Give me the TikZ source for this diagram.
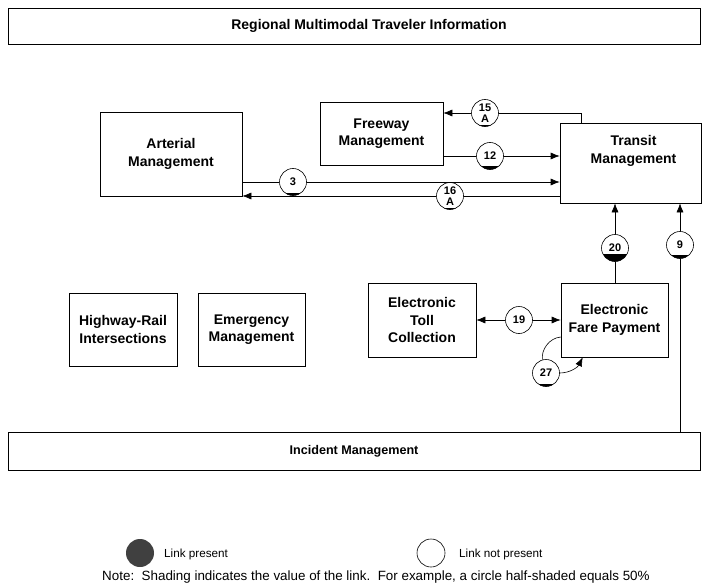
\documentclass[tikz,border=0pt]{standalone}
\usepackage{fontspec}
\setmainfont{Liberation Sans}
\usetikzlibrary{arrows.meta}
\begin{document}
\begin{tikzpicture}[x=1pt,y=-1pt,
 box/.style={draw, line width=0.6pt, font=\fontsize{14}{17.5}\selectfont\bfseries, align=center, inner sep=0pt},
 wide/.style={box, minimum width=692pt},
 lnk/.style={draw, circle, line width=0.6pt, minimum size=27pt, inner sep=0pt, font=\fontsize{11}{10.5}\selectfont\bfseries, align=center, fill=white},
 lshade/.style={path picture={\fill[black] (path picture bounding box.south west) rectangle ([yshift=#1]path picture bounding box.south east);}},
 conn/.style={line width=0.6pt},
 arr/.style={conn, -{Latex[length=9pt,width=7pt]}},
 legtext/.style={anchor=west, font=\fontsize{11.7}{14}\selectfont, inner sep=0pt},
]
\useasboundingbox (0,0) rectangle (702,586);
% boxes
\node[wide, minimum height=36pt, font=\fontsize{14}{16}\selectfont\bfseries] (rmti) at (354,26) {\hspace*{30pt}Regional Multimodal Traveler Information};
\node[box, minimum width=142pt, minimum height=84pt] (art) at (171,154) {Arterial\\Management};
\node[box, minimum width=123pt, minimum height=63pt] (fwy) at (381.5,133.5) {Freeway\\Management};
\node[box, minimum width=141pt, minimum height=80pt] (tr) at (630.5,163) {};
\node[box, draw=none] (trt) at ([xshift=3pt,yshift=12pt]tr.center) {Transit\\Management};
\node[box, minimum width=108pt, minimum height=73pt] (hri) at (123,329.5) {Highway-Rail\\Intersections};
\node[box, minimum width=107pt, minimum height=73pt] (em) at (251.5,329.5) {Emergency\\Management};
\node[box, minimum width=108pt, minimum height=74pt] (etc) at (422,320) {Electronic\\Toll\\Collection};
\node[box, minimum width=107pt, minimum height=74pt] (efp) at (614.5,320) {Electronic\\Fare Payment};
\node[wide, minimum height=38pt, font=\fontsize{12.6}{15}\selectfont\bfseries] (im) at (354,451) {Incident Management};
% link circles
\node[lnk, lshade=1.5pt] (l15) at (485,113) {15\\A};
\node[lnk, lshade=4pt] (l12) at (490,156) {12};
\node[lnk, lshade=3pt] (l3) at (293,182) {3};
\node[lnk, lshade=1.5pt] (l16) at (450,196) {16\\A};
\node[lnk, lshade=8pt] (l20) at (615,248) {20};
\node[lnk, lshade=4pt] (l9) at (680,245) {9};
\node[lnk] (l19) at (519,320) {19};
\node[lnk, lshade=3pt] (l27) at (546,373) {27};
% connectors
\coordinate (c15) at ([xshift=22pt]tr.north west);
\draw[conn] (c15) |- (l15);
\draw[arr] (l15) -- (l15 -| fwy.east);
\draw[conn] (l12 -| fwy.east) -- (l12);
\draw[arr] (l12) -- (l12 -| tr.west);
\draw[conn] (l3 -| art.east) -- (l3);
\draw[arr] (l3) -- (l3 -| tr.west);
\draw[conn] (l16 -| tr.west) -- (l16);
\draw[arr] (l16) -- (l16 -| art.east);
\draw[conn] (l20 |- efp.north) -- (l20);
\draw[arr] (l20) -- (l20 |- tr.south);
\draw[conn] (l9 |- im.north) -- (l9);
\draw[arr] (l9) -- (l9 |- tr.south);
\draw[arr] (l19) -- (l19 -| etc.east);
\draw[arr] (l19) -- (l19 -| efp.west);
\coordinate (c27a) at ([yshift=-17pt]efp.west);
\draw[conn] (c27a) .. controls (549,338) and (541,350) .. (l27.105);
\coordinate (c27b) at ([xshift=22pt]efp.south west);
\draw[arr] (l27.east) .. controls (570,373) and (578,367) .. (c27b);
% legend
\node[circle, fill=black!75, minimum size=28pt, inner sep=0pt] (lp) at (140,553) {};
\node[legtext] (lpt) at (164,554) {Link present};
\node[circle, draw, line width=0.6pt, minimum size=28pt, inner sep=0pt] (lnp) at (431,553) {};
\node[legtext] (lnpt) at (459,554) {Link not present};
\node[legtext, font=\fontsize{13.4}{15}\selectfont] (note) at (102,577) {Note:\ \ Shading indicates the value of the link.\ \ For example, a circle half-shaded equals 50\%};
\end{tikzpicture}
\end{document}
